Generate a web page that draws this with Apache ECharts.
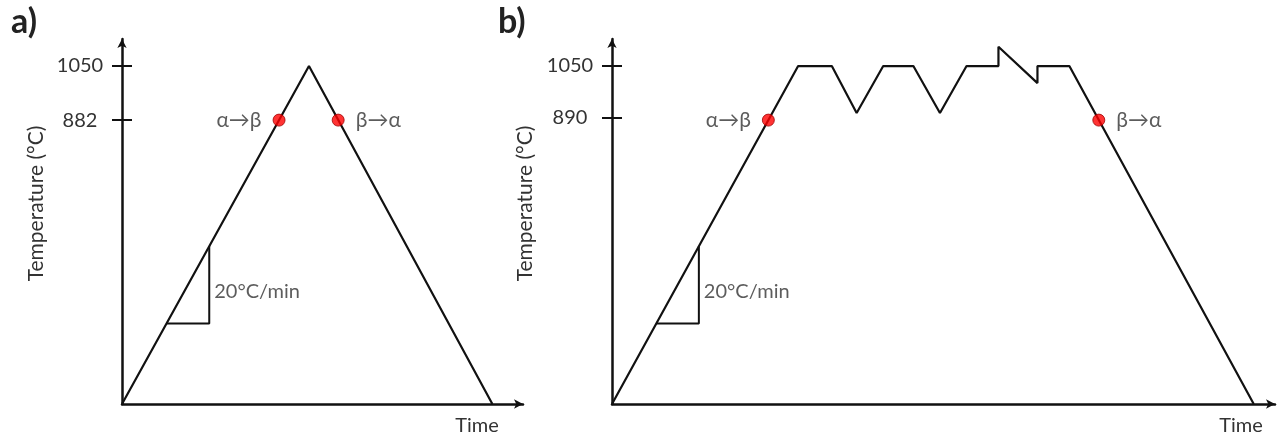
<!DOCTYPE html>
<html>
<head>
<meta charset="utf-8">
<script src="https://cdn.jsdelivr.net/npm/echarts@6/dist/echarts.min.js"></script>
<style>
  html, body { margin: 0; padding: 0; background: #ffffff; }
  #chart { width: 1280px; height: 437px; }
</style>
</head>
<body>
<div id="chart"></div>
<script>
// Heat-treatment schedules: (a) single ramp to 1050 °C, (b) ramp with thermal cycling
const panelLetters = ['a)', 'b)'];
const tempTicksA = [882, 1050];
const tempTicksB = [890, 1050];

// (a) time in minutes, temperature in °C
const cycleA_time = [0, 52.5, 104];
const cycleA_temp = [0, 1050, 0];

// (b) time in minutes, temperature in °C
const cycleB_time = [0, 52.5, 62, 69, 76.5, 85, 92.5, 100, 109, 109, 120, 120, 129, 181];
const cycleB_temp = [0, 1050, 1050, 904, 1050, 1050, 904, 1050, 1050, 1110, 997, 1050, 1050, 0];

// phase transformation points (β-transus)
const transusA_time = [44.1, 60.7];
const transusA_temp = [882, 882];
const transusB_time = [44.1, 137.3];
const transusB_temp = [882, 882];
const transusText = ['α→β', 'β→α'];

// heating-rate triangle and its label
const rate_time = [12.5, 24.5, 24.5];
const rate_temp = [250, 250, 490];
const rateLabelPos = [24.5, 348];
const rateText = '20°C/min';

const timeMaxA = 112.6;
const timeMaxB = 187;
const tempMax = 1134;

const ink = '#111111';
const textColor = '#333333';
const fontFamily = 'Lato, "Open Sans", sans-serif';

const zip = (xs, ys) => xs.map((x, i) => [x, ys[i]]);

function yAxesFor(gridIndex, ticks) {
  return [
    {
      gridIndex, type: 'value', min: 0, max: tempMax,
      name: 'Temperature (°C)', nameLocation: 'middle', nameGap: 75,
      nameTextStyle: { fontSize: 21, color: textColor, padding: [0, 0, 0, 36] },
      axisLine: { show: true, symbol: ['none', 'arrow'], symbolSize: [7, 9],
                  lineStyle: { color: ink, width: 2.5 } },
      axisTick: { show: true, length: 10, customValues: ticks,
                  lineStyle: { color: ink, width: 2 } },
      axisLabel: { show: true, customValues: ticks, margin: 42, align: 'center',
                   fontSize: 20, color: textColor, formatter: v => String(v) },
      splitLine: { show: false }
    },
    {
      // inner half of the crossing tick marks
      gridIndex, type: 'value', min: 0, max: tempMax, position: 'left',
      axisLine: { show: false },
      axisTick: { show: true, inside: true, length: 10, customValues: ticks,
                  lineStyle: { color: ink, width: 2 } },
      axisLabel: { show: false },
      splitLine: { show: false }
    }
  ];
}

function xAxisFor(gridIndex, max, gap) {
  return {
    gridIndex, type: 'value', min: 0, max,
    name: 'Time', nameLocation: 'end', nameGap: gap,
    nameTextStyle: { fontSize: 20, color: textColor, align: 'center',
                     verticalAlign: 'top', padding: [12, 0, 0, 0] },
    axisLine: { show: true, symbol: ['none', 'arrow'], symbolSize: [7, 9],
                lineStyle: { color: ink, width: 2.5 } },
    axisTick: { show: false },
    axisLabel: { show: false },
    splitLine: { show: false }
  };
}

function transusSeries(xi, yi, times, temps) {
  return {
    type: 'scatter', xAxisIndex: xi, yAxisIndex: yi, z: 5,
    symbolSize: 12,
    itemStyle: { color: '#ff0000', borderColor: '#a00000', borderWidth: 1 },
    data: times.map((t, i) => ({
      value: [t, temps[i]],
      label: {
        show: true, formatter: transusText[i],
        position: i === 0 ? 'left' : 'right', distance: 11,
        fontSize: 21, color: textColor
      }
    }))
  };
}

function profileSeries(xi, yi, times, temps) {
  return {
    type: 'line', xAxisIndex: xi, yAxisIndex: yi, symbol: 'none',
    lineStyle: { color: ink, width: 2.2 }, data: zip(times, temps), animation: false
  };
}

function rateSeries(xi, yi) {
  return [
    {
      type: 'line', xAxisIndex: xi, yAxisIndex: yi, symbol: 'none',
      lineStyle: { color: ink, width: 2 }, data: zip(rate_time, rate_temp)
    },
    {
      type: 'scatter', xAxisIndex: xi, yAxisIndex: yi, symbolSize: 0,
      data: [rateLabelPos],
      label: { show: true, formatter: rateText, position: 'right', distance: 5,
               fontSize: 20, color: textColor }
    }
  ];
}

const chart = echarts.init(document.getElementById('chart'), null, { renderer: 'canvas' });

chart.setOption({
  animation: false,
  backgroundColor: '#ffffff',
  textStyle: { fontFamily },
  title: [
    { text: panelLetters[0], left: 6, top: 0,
      textStyle: { fontSize: 34, fontWeight: 'bold', color: '#222', fontFamily } },
    { text: panelLetters[1], left: 493, top: 0,
      textStyle: { fontSize: 34, fontWeight: 'bold', color: '#222', fontFamily } }
  ],
  grid: [
    { left: 122, top: 39, width: 401, bottom: 33 },
    { left: 612, top: 39, width: 663, bottom: 33 }
  ],
  xAxis: [xAxisFor(0, timeMaxA, -46), xAxisFor(1, timeMaxB, -34)],
  yAxis: [...yAxesFor(0, tempTicksA), ...yAxesFor(1, tempTicksB)],
  series: [
    profileSeries(0, 0, cycleA_time, cycleA_temp),
    ...rateSeries(0, 0),
    transusSeries(0, 0, transusA_time, transusA_temp),
    profileSeries(1, 2, cycleB_time, cycleB_temp),
    ...rateSeries(1, 2),
    transusSeries(1, 2, transusB_time, transusB_temp)
  ]
});
</script>
</body>
</html>
